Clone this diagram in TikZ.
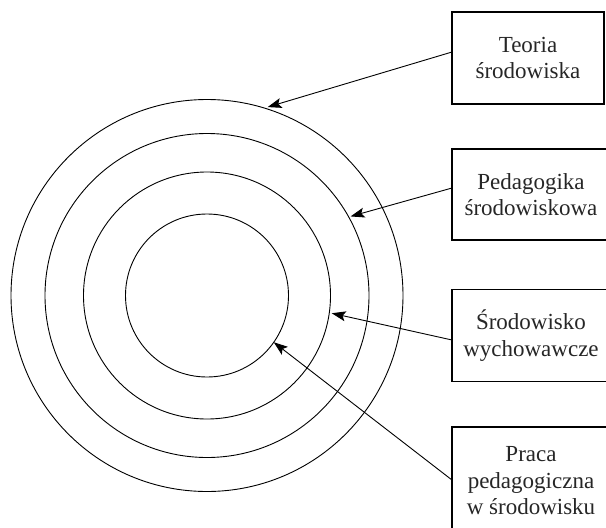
\documentclass[tikz,border=0pt]{standalone}
\usepackage{fontspec}
\setmainfont{Liberation Serif}
\usetikzlibrary{arrows.meta,calc}
\begin{document}
\begin{tikzpicture}[x=1pt,y=-1pt,
  ring/.style={circle,draw,line width=0.9pt,inner sep=0pt,outer sep=0pt,minimum size=#1},
  labelbox/.style={draw,line width=1.2pt,inner sep=0pt,outer sep=0pt,align=center,
    font=\fontsize{23}{26.5}\selectfont,text=black!85},
  pointer/.style={line width=0.9pt,-{Stealth[length=14pt,width=10pt,inset=3pt]}}]
\useasboundingbox (0,0) rectangle (606,528);
\clip (0,0) rectangle (606,528);
% rings
\node[ring=392pt] (c1) at (207,295.5) {};
\node[ring=324pt] (c2) at (207,295.5) {};
\node[ring=247pt] (c3) at (207,295.5) {};
\node[ring=163pt] (c4) at (207,295.5) {};
% boxes
\node[labelbox,minimum width=152pt,minimum height=92pt] (b1) at (528,58) {Teoria\\środowiska};
\node[labelbox,minimum width=158pt,minimum height=91pt] (b2) at (531,194.5) {Pedagogika\\środowiskowa};
\node[labelbox,minimum width=158pt,minimum height=92pt] (b3) at (531,335.5) {Środowisko\\wychowawcze};
\node[labelbox,minimum width=158pt,minimum height=108pt] (b4) at (531,481) {Praca\\pedagogiczna\\w środowisku};
% arrow start heights
\coordinate (y1) at (0,52);
\coordinate (y2) at (0,188);
\coordinate (y3) at (0,340);
\coordinate (y4) at (0,480);
\draw[pointer,shorten >=3.5pt] (b1.west |- y1) -- (c1.73.8);
\draw[pointer,shorten >=2pt] (b2.west |- y2) -- (c2.29.4);
\draw[pointer,shorten >=2.5pt] (b3.west |- y3) -- (c3.-8);
\draw[pointer] (b4.west |- y4) -- (c4.-35.7);
\end{tikzpicture}
\end{document}
